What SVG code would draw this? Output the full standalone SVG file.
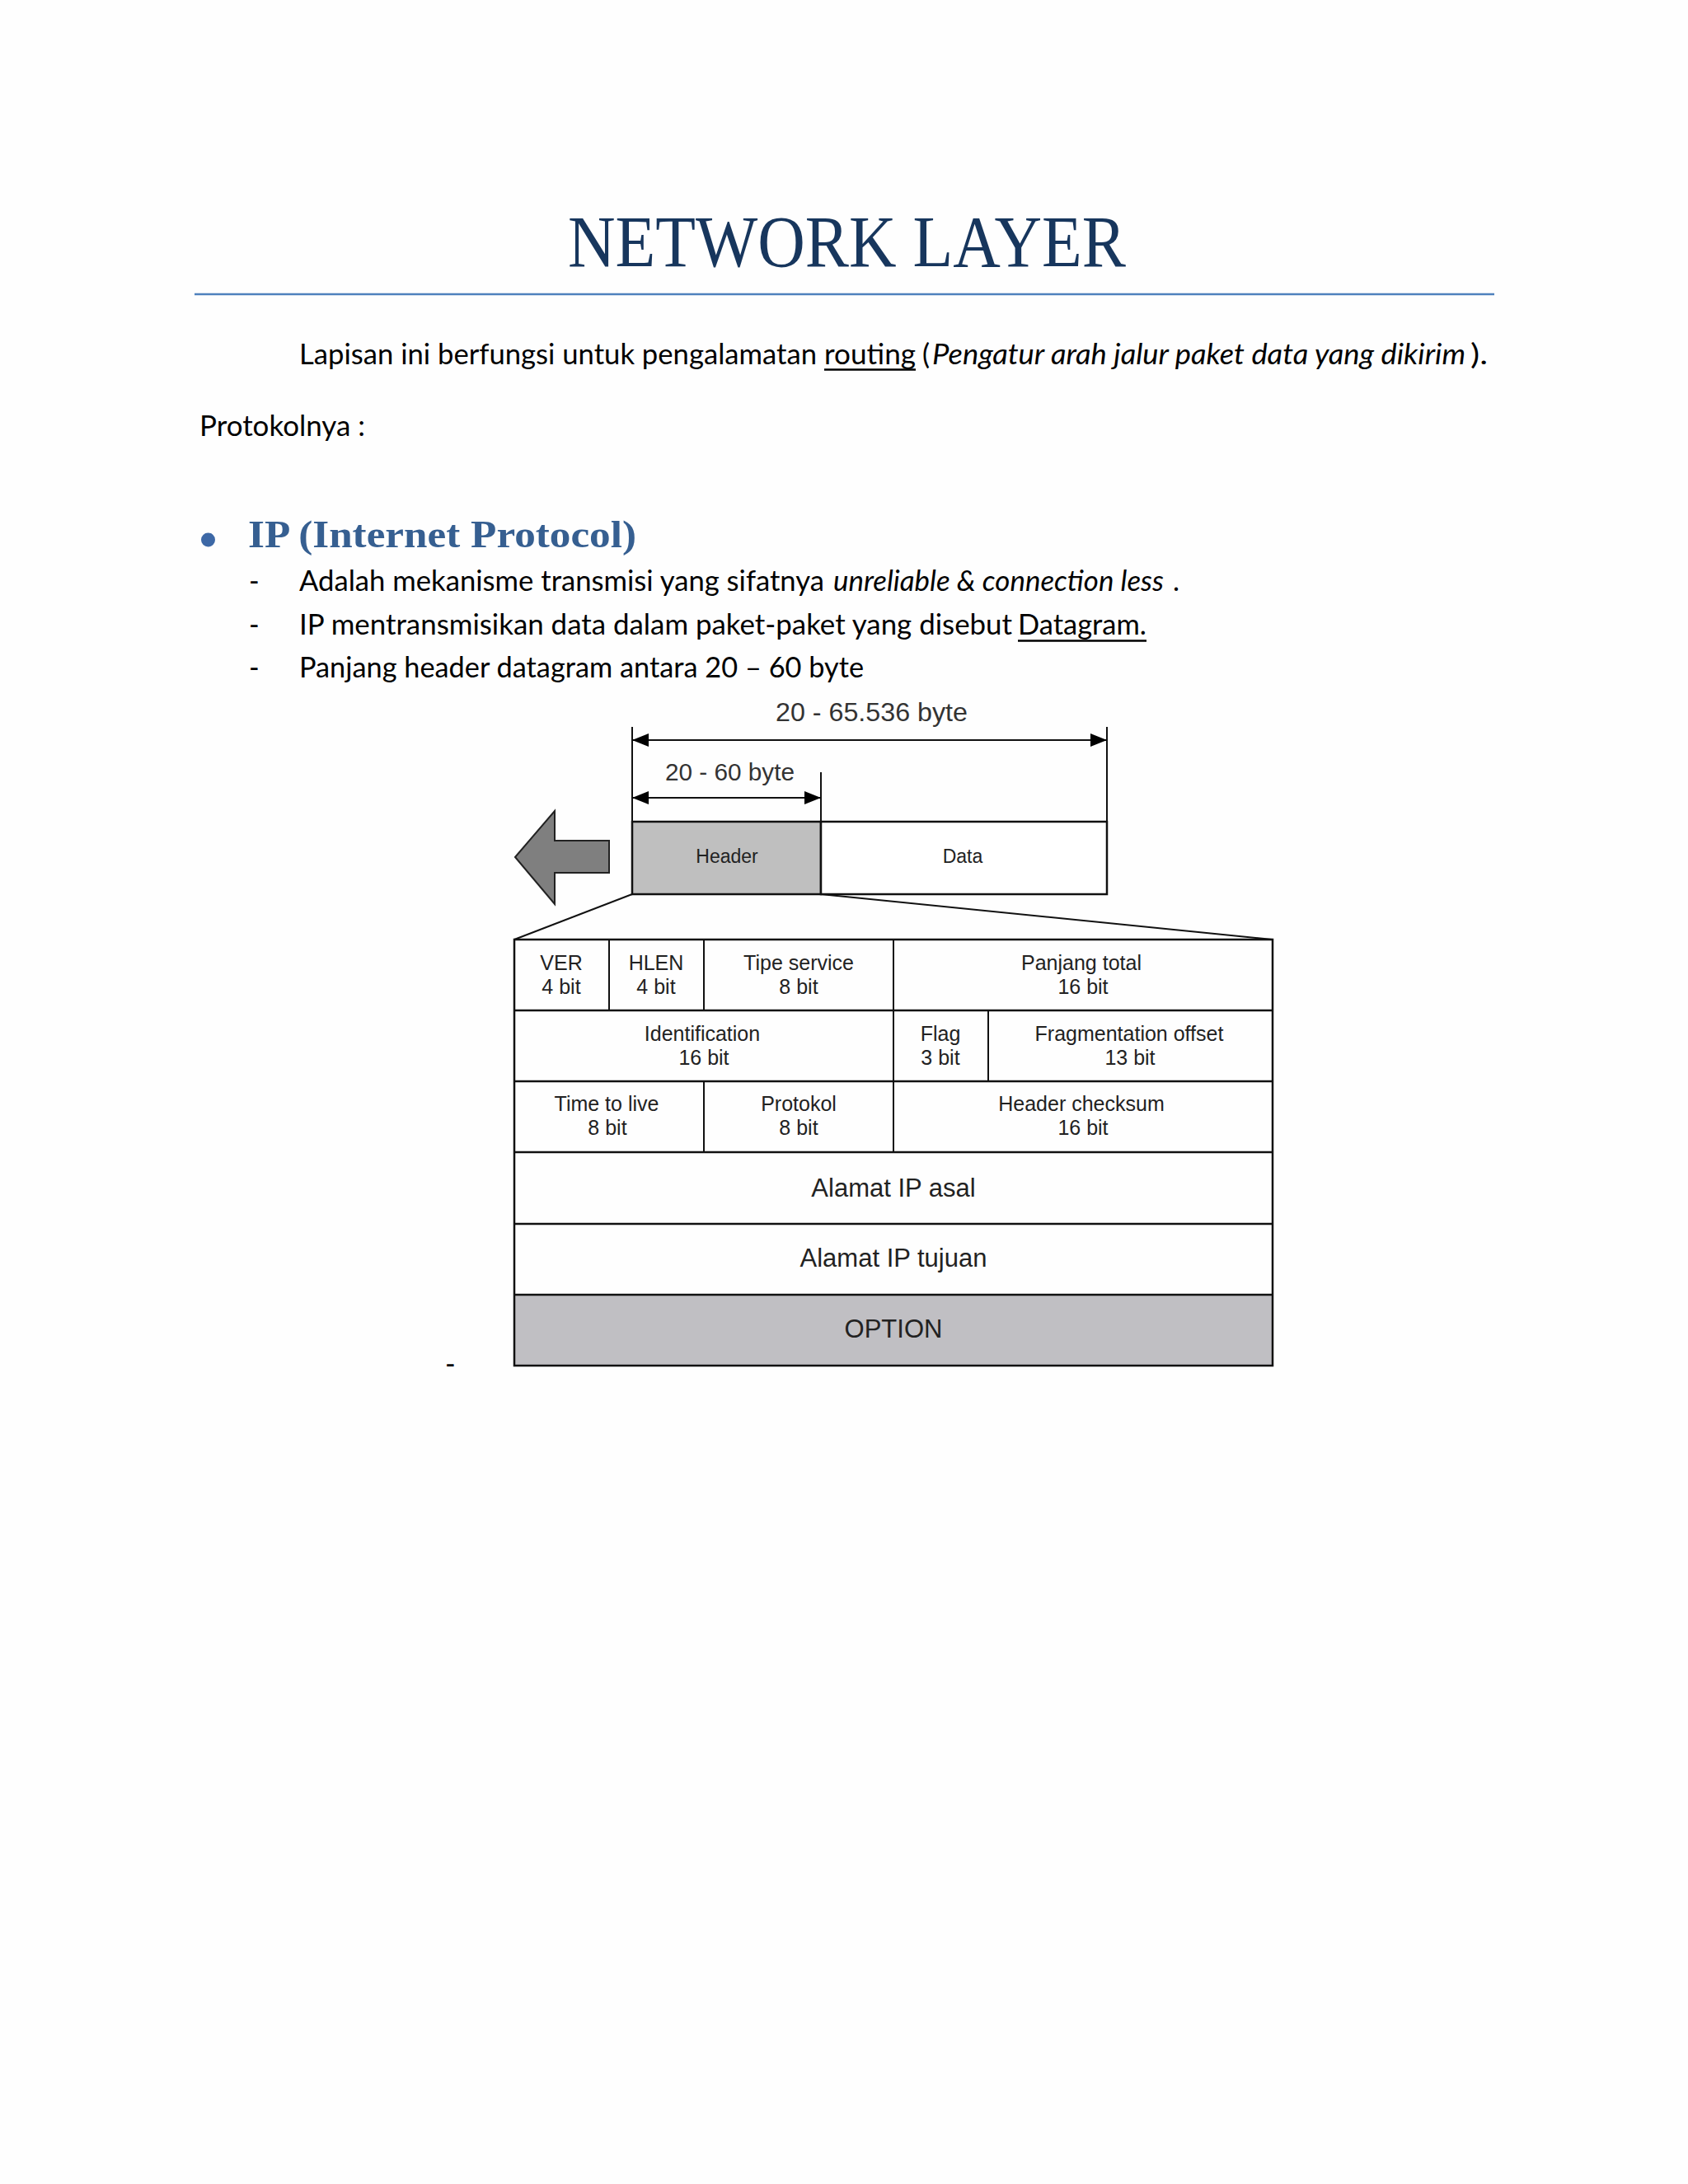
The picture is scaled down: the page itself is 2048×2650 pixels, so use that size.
<svg xmlns="http://www.w3.org/2000/svg" width="2048" height="2650" viewBox="0 0 2048 2650">
  <defs>
    <style>
      .body { font-family: Lato, "Open Sans", "Liberation Sans", sans-serif; font-size: 34px; fill: #000; }
      .it { font-style: italic; }
      .title { font-family: "Liberation Serif", "DejaVu Serif", serif; font-size: 88px; fill: #17365D; }
      .h1 { font-family: "Liberation Serif", "DejaVu Serif", serif; font-size: 47px; font-weight: bold; fill: #365F91; }
      .dg { font-family: "Liberation Sans", Arial, sans-serif; fill: #222; text-anchor: middle; }
      .cell { font-size: 25px; }
      .big { font-size: 31px; }
      .dim { font-family: "Liberation Sans", Arial, sans-serif; fill: #333; }
      .ln { stroke: #111; stroke-width: 2; fill: none; }
      .tl { stroke: #111; stroke-width: 2.5; }
      .box { stroke: #111; stroke-width: 2.5; }
    </style>
    <marker id="ah" viewBox="0 0 20 16" refX="20" refY="8" markerWidth="20" markerHeight="16" markerUnits="userSpaceOnUse" orient="auto-start-reverse">
      <path d="M0,0 L20,8 L0,16 Z" fill="#000"/>
    </marker>
  </defs>

  <rect x="0" y="0" width="2048" height="2650" fill="#FEFEFE"/>

  <!-- Title -->
  <g id="title">
    <text class="title" x="689" y="323" textLength="677" lengthAdjust="spacingAndGlyphs">NETWORK LAYER</text>
    <line x1="236" y1="357" x2="1813" y2="357" stroke="#4F81BD" stroke-width="2.5"/>
  </g>

  <!-- Intro paragraph -->
  <g id="intro">
    <text class="body" x="363" y="442" textLength="628" lengthAdjust="spacingAndGlyphs">Lapisan ini berfungsi untuk pengalamatan</text>
    <text class="body" x="1000" y="442" textLength="111" lengthAdjust="spacingAndGlyphs">routing</text>
    <line x1="1000" y1="448.5" x2="1111" y2="448.5" stroke="#000" stroke-width="2.5"/>
    <text class="body" x="1119" y="442">(</text>
    <text class="body it" x="1131" y="442" textLength="647" lengthAdjust="spacingAndGlyphs">Pengatur arah jalur paket data yang dikirim</text>
    <text class="body" x="1784" y="442" textLength="21" lengthAdjust="spacingAndGlyphs">).</text>
  </g>

  <g id="protokolnya">
    <text class="body" x="242" y="529" textLength="201" lengthAdjust="spacingAndGlyphs">Protokolnya :</text>
  </g>

  <!-- Heading -->
  <g id="heading-ip">
    <circle cx="252.5" cy="655" r="8.5" fill="#3D68A6"/>
    <text class="h1" x="301" y="664" textLength="471" lengthAdjust="spacingAndGlyphs">IP (Internet Protocol)</text>
  </g>

  <!-- Bullet list -->
  <g id="list">
    <text class="body" x="302" y="717">-</text>
    <text class="body" x="363" y="717" textLength="637" lengthAdjust="spacingAndGlyphs">Adalah mekanisme transmisi yang sifatnya</text>
    <text class="body it" x="1011" y="717" textLength="401" lengthAdjust="spacingAndGlyphs">unreliable &amp; connection less</text>
    <text class="body" x="1423" y="717">.</text>

    <text class="body" x="302" y="770">-</text>
    <text class="body" x="363" y="770" textLength="865" lengthAdjust="spacingAndGlyphs">IP mentransmisikan data dalam paket-paket yang disebut</text>
    <text class="body" x="1235" y="770" textLength="156" lengthAdjust="spacingAndGlyphs">Datagram.</text>
    <line x1="1235" y1="777.5" x2="1391" y2="777.5" stroke="#000" stroke-width="2.5"/>

    <text class="body" x="302" y="822">-</text>
    <text class="body" x="363" y="822" textLength="685" lengthAdjust="spacingAndGlyphs">Panjang header datagram antara 20 – 60 byte</text>

    <text class="body" x="540" y="1667">-</text>
  </g>

  <!-- Datagram diagram -->
  <g id="arrow-left">
    <polygon points="625,1040 673,984 673,1020 739,1020 739,1059 673,1059 673,1097" fill="#7F7F7F" stroke="#222" stroke-width="2" stroke-linejoin="miter"/>
  </g>

  <g id="header-box">
    <rect x="767" y="997" width="229" height="88" fill="#BFBFBF" class="box"/>
    <text class="dg" x="882" y="1047" font-size="23">Header</text>
  </g>
  <g id="data-box">
    <rect x="996" y="997" width="347" height="88" fill="#FFFFFF" class="box"/>
    <text class="dg" x="1168" y="1047" font-size="23">Data</text>
  </g>

  <g id="dim-total">
    <text class="dim" x="941" y="875" font-size="32" textLength="233" lengthAdjust="spacingAndGlyphs">20 - 65.536 byte</text>
  </g>
  <g id="dim-header">
    <text class="dim" x="807" y="947" font-size="29" textLength="157" lengthAdjust="spacingAndGlyphs">20 - 60 byte</text>
  </g>

  <g id="connectors">
    <line class="ln" x1="767" y1="882" x2="767" y2="997"/>
    <line class="ln" x1="1343" y1="882" x2="1343" y2="997"/>
    <line class="ln" x1="996" y1="937" x2="996" y2="997"/>
    <line class="ln" x1="767" y1="898" x2="1343" y2="898" marker-start="url(#ah)" marker-end="url(#ah)"/>
    <line class="ln" x1="767" y1="968" x2="996" y2="968" marker-start="url(#ah)" marker-end="url(#ah)"/>
    <line class="ln" x1="767" y1="1085" x2="624" y2="1140"/>
    <line class="ln" x1="996" y1="1085" x2="1544" y2="1140"/>
  </g>

  <!-- IP header table -->
  <g id="ip-header-table">
    <rect x="624" y="1571" width="920" height="86" fill="#C0BFC3"/>
    <rect x="624" y="1140" width="920" height="517" fill="none" class="box"/>
    <line class="tl" x1="624" y1="1226" x2="1544" y2="1226"/>
    <line class="tl" x1="624" y1="1312" x2="1544" y2="1312"/>
    <line class="tl" x1="624" y1="1398" x2="1544" y2="1398"/>
    <line class="tl" x1="624" y1="1485" x2="1544" y2="1485"/>
    <line class="tl" x1="624" y1="1571" x2="1544" y2="1571"/>
    <line class="ln" x1="739" y1="1140" x2="739" y2="1226"/>
    <line class="ln" x1="854" y1="1140" x2="854" y2="1226"/>
    <line class="ln" x1="1084" y1="1140" x2="1084" y2="1398"/>
    <line class="ln" x1="1199" y1="1226" x2="1199" y2="1312"/>
    <line class="ln" x1="854" y1="1312" x2="854" y2="1398"/>
  </g>

  <g id="cell-ver"><text class="dg cell" x="681" y="1177">VER</text><text class="dg cell" x="681" y="1206">4 bit</text></g>
  <g id="cell-hlen"><text class="dg cell" x="796" y="1177">HLEN</text><text class="dg cell" x="796" y="1206">4 bit</text></g>
  <g id="cell-tos"><text class="dg cell" x="969" y="1177">Tipe service</text><text class="dg cell" x="969" y="1206">8 bit</text></g>
  <g id="cell-total"><text class="dg cell" x="1312" y="1177">Panjang total</text><text class="dg cell" x="1314" y="1206">16 bit</text></g>

  <g id="cell-id"><text class="dg cell" x="852" y="1263">Identification</text><text class="dg cell" x="854" y="1292">16 bit</text></g>
  <g id="cell-flag"><text class="dg cell" x="1141" y="1263">Flag</text><text class="dg cell" x="1141" y="1292">3 bit</text></g>
  <g id="cell-frag"><text class="dg cell" x="1370" y="1263">Fragmentation offset</text><text class="dg cell" x="1371" y="1292">13 bit</text></g>

  <g id="cell-ttl"><text class="dg cell" x="736" y="1348">Time to live</text><text class="dg cell" x="737" y="1377">8 bit</text></g>
  <g id="cell-proto"><text class="dg cell" x="969" y="1348">Protokol</text><text class="dg cell" x="969" y="1377">8 bit</text></g>
  <g id="cell-checksum"><text class="dg cell" x="1312" y="1348">Header checksum</text><text class="dg cell" x="1314" y="1377">16 bit</text></g>

  <g id="cell-src"><text class="dg big" x="1084" y="1452">Alamat IP asal</text></g>
  <g id="cell-dst"><text class="dg big" x="1084" y="1537">Alamat IP tujuan</text></g>
  <g id="cell-option"><text class="dg big" x="1084" y="1623">OPTION</text></g>
</svg>
